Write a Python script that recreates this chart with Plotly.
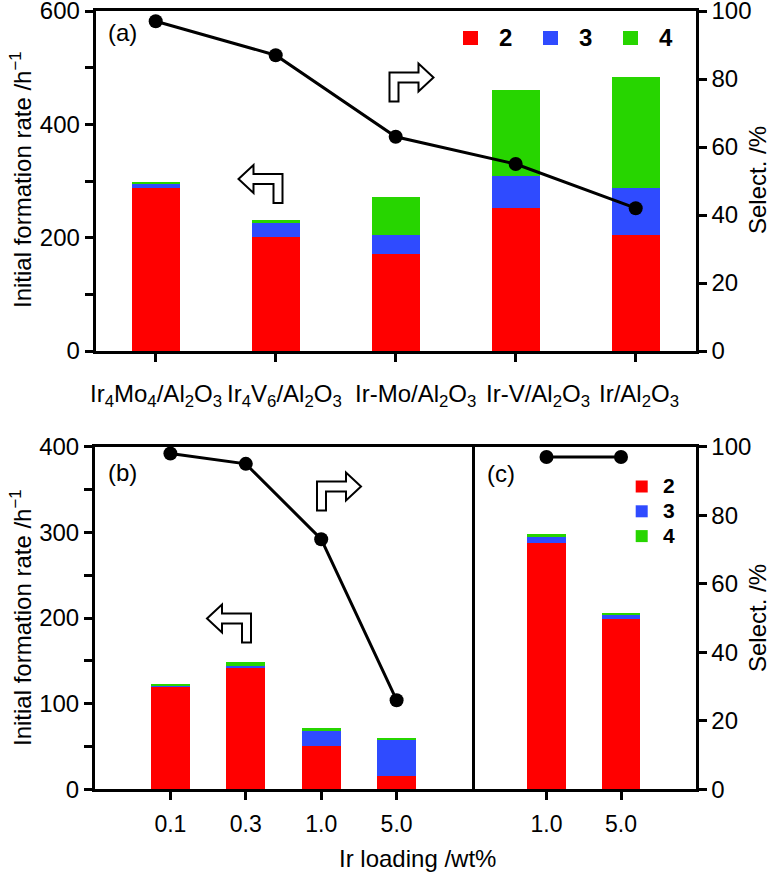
import plotly.graph_objects as go

# ---------------- data ----------------
series_names = ["2", "3", "4"]

cat_a = ["Ir<sub>4</sub>Mo<sub>4</sub>/Al<sub>2</sub>O<sub>3</sub>",
         "Ir<sub>4</sub>V<sub>6</sub>/Al<sub>2</sub>O<sub>3</sub>",
         "Ir-Mo/Al<sub>2</sub>O<sub>3</sub>",
         "Ir-V/Al<sub>2</sub>O<sub>3</sub>",
         "Ir/Al<sub>2</sub>O<sub>3</sub>"]
a_rate2 = [288, 201, 172, 252, 204]
a_rate3 = [7, 25, 33, 57, 84]
a_rate4 = [3, 6, 67, 152, 195]
a_select = [97, 87, 63, 55, 42]

cat_b = ["0.1", "0.3", "1.0", "5.0"]
b_rate2 = [120, 142, 51, 15]
b_rate3 = [2, 2, 17, 42]
b_rate4 = [0.5, 5, 3, 3]
b_select = [98, 95, 73, 26]

cat_c = ["1.0", "5.0"]
c_rate2 = [288, 199]
c_rate3 = [7, 5]
c_rate4 = [3, 2]
c_select = [97, 97]

# ---------------- style ----------------
W, H = 773, 875
COLORS = ["#FF0000", "#2F4BFF", "#27D500"]
FONT = "Liberation Sans, Arial, Helvetica, sans-serif"
LW = 3


def PX(x):
    return x / W


def PY(y):
    return 1 - y / H


fig = go.Figure()

# panel (a)
for vals, name, col in zip([a_rate2, a_rate3, a_rate4], series_names, COLORS):
    fig.add_bar(x=cat_a, y=vals, name=name, marker_color=col, marker_line_width=0,
                width=0.4, xaxis="x", yaxis="y", showlegend=False)
fig.add_scatter(x=cat_a, y=a_select, mode="lines+markers", xaxis="x", yaxis="y2",
                line=dict(color="black", width=3), marker=dict(size=14, color="black"),
                showlegend=False)

# panel (b)
for vals, name, col in zip([b_rate2, b_rate3, b_rate4], series_names, COLORS):
    fig.add_bar(x=cat_b, y=vals, name=name, marker_color=col, marker_line_width=0,
                width=0.52, xaxis="x2", yaxis="y3", showlegend=False)
fig.add_scatter(x=cat_b, y=b_select, mode="lines+markers", xaxis="x2", yaxis="y4",
                line=dict(color="black", width=3), marker=dict(size=14, color="black"),
                showlegend=False)

# panel (c)
for vals, name, col in zip([c_rate2, c_rate3, c_rate4], series_names, COLORS):
    fig.add_bar(x=cat_c, y=vals, name=name, marker_color=col, marker_line_width=0,
                width=0.52, xaxis="x3", yaxis="y5", showlegend=False)
fig.add_scatter(x=cat_c, y=c_select, mode="lines+markers", xaxis="x3", yaxis="y6",
                line=dict(color="black", width=3), marker=dict(size=14, color="black"),
                showlegend=False)

tickfont = dict(family=FONT, size=24, color="black")
common = dict(showline=True, linewidth=LW, linecolor="black", ticks="outside",
              ticklen=8, tickwidth=LW, tickcolor="black", showgrid=False,
              zeroline=False, tickfont=tickfont, automargin=False,
              ticklabeloverflow="allow")

top_a, bot_a = PY(351), PY(11)
top_b, bot_b = PY(789.3), PY(446.7)
xtickfont = dict(family=FONT, size=23, color="black")

fig.update_layout(
    width=W, height=H,
    margin=dict(l=0, r=0, t=0, b=0, pad=0, autoexpand=False),
    paper_bgcolor="white", plot_bgcolor="white",
    font=dict(family=FONT, size=24, color="black"),
    barmode="stack",
    xaxis=dict(domain=[PX(95.7), PX(695.7)], anchor="y", type="category",
               range=[-0.5, 4.5], mirror=True, showticklabels=False, **common),
    yaxis=dict(domain=[top_a, bot_a], anchor="x", range=[0, 600], tick0=0, dtick=200,
               minor=dict(dtick=100, ticks="outside", ticklen=8, tickwidth=LW,
                          tickcolor="black"), **common),
    yaxis2=dict(overlaying="y", side="right", anchor="x", range=[0, 100], dtick=20,
                **common),
    xaxis2=dict(domain=[PX(95), PX(472)], anchor="y3", type="category",
                range=[-1, 4], mirror=True, ticklabelstandoff=4,
                **{**common, "tickfont": xtickfont}),
    yaxis3=dict(domain=[top_b, bot_b], anchor="x2", range=[0, 400], tick0=0, dtick=100,
                mirror=True,
                minor=dict(dtick=50, ticks="outside", ticklen=8, tickwidth=LW,
                           tickcolor="black"), **common),
    yaxis4=dict(overlaying="y3", anchor="x2", range=[0, 100], visible=False,
                automargin=False),
    xaxis3=dict(domain=[PX(472), PX(695.5)], anchor="y5", type="category",
                range=[-1, 2], mirror=True, ticklabelstandoff=4,
                **{**common, "tickfont": xtickfont}),
    yaxis5=dict(domain=[top_b, bot_b], anchor="x3", range=[0, 400], visible=False,
                automargin=False),
    yaxis6=dict(overlaying="y5", side="right", anchor="x3", range=[0, 100], dtick=20,
                **common),
)

ann = []


def text(x, y, s, size=24, bold=False, angle=0, xanchor="center", yanchor="middle",
         xref="paper", xshift=0):
    ann.append(dict(x=x, y=y, xref=xref, yref="paper", text=("<b>%s</b>" % s) if bold else s,
                    showarrow=False, textangle=angle, xanchor=xanchor, yanchor=yanchor,
                    xshift=xshift, font=dict(family=FONT, size=size, color="black")))


# category labels panel (a)
cat_shift = [0, 9, 20, 22, 3]
for c, sh in zip(cat_a, cat_shift):
    text(c, PY(395), c, xref="x", xshift=sh)

# panel labels
text(PX(122), PY(33), "(a)")
text(PX(122), PY(472), "(b)")
text(PX(501), PY(473), "(c)")

# axis titles
ytitle = "Initial formation rate /h<sup>\u22121</sup>"
text(PX(21), PY(180), ytitle, angle=-90)
text(PX(21), PY(618), ytitle, angle=-90)
text(PX(757), PY(180), "Select. /%", angle=-90)
text(PX(757), PY(618), "Select. /%", angle=-90)
text(PX(417), PY(858), "Ir loading /wt%")

shapes = []

# legend (a) - horizontal
for i, (name, col) in enumerate(zip(series_names, COLORS)):
    x0 = 463 + 80 * i
    shapes.append(dict(type="rect", xref="paper", yref="paper", x0=PX(x0), x1=PX(x0 + 15),
                       y0=PY(45), y1=PY(31), fillcolor=col, line=dict(width=0)))
    text(PX(x0 + 34), PY(38), name, bold=True, xanchor="left", size=24)

# legend (c) - vertical
for i, (name, col) in enumerate(zip(series_names, COLORS)):
    yc = 486.5 + 24.8 * i
    shapes.append(dict(type="rect", xref="paper", yref="paper", x0=PX(635.7), x1=PX(647.7),
                       y0=PY(yc + 6), y1=PY(yc - 6), fillcolor=col, line=dict(width=0)))
    text(PX(661), PY(yc - 1), name, bold=True, xanchor="left", size=21)

# open bent arrows
LEFT_ARROW = [(0, 14), (15, 0), (15, 9), (44, 9), (44, 38), (35, 38), (35, 19), (15, 19), (15, 28)]


def arrow(x0, y0, direction):
    pts = LEFT_ARROW if direction == "left" else [(44 - x, y) for x, y in LEFT_ARROW]
    path = "M " + " L ".join("%.5f,%.5f" % (PX(x0 + x), PY(y0 + y)) for x, y in pts) + " Z"
    shapes.append(dict(type="path", xref="paper", yref="paper", path=path,
                       fillcolor="white", line=dict(color="black", width=2)))


arrow(238.5, 165, "left")
arrow(389.5, 63.5, "right")
arrow(207, 604.5, "left")
arrow(317, 472.5, "right")

fig.update_layout(annotations=ann, shapes=shapes)

fig.write_html("out.html", config={"displayModeBar": False},
               post_script="document.body.style.margin='0px';"
                           "document.body.style.overflow='hidden';")
